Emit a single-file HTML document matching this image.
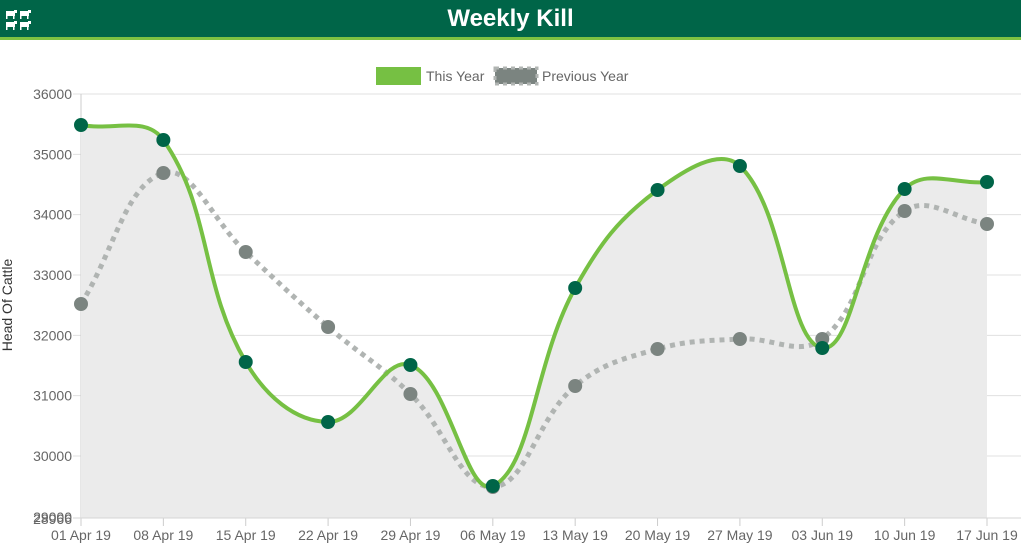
<!DOCTYPE html>
<html><head><meta charset="utf-8"><style>
body{margin:0;width:1021px;height:552px;background:#fff;overflow:hidden;font-family:"Liberation Sans",sans-serif}
.hdr{position:absolute;left:0;top:0;width:1021px;height:37px;background:#006548;border-bottom:3px solid #7dc242}
.hdr h1{margin:0;text-align:center;color:#fff;font-size:24px;line-height:37px;font-weight:bold}
svg{position:absolute;left:0;top:0}
</style></head><body>
<div class="hdr"><h1>Weekly Kill</h1>
<svg width="40" height="37" style="position:absolute;left:0;top:0">
<g fill="#fff">
<rect x="6" y="11" width="9" height="5"/><rect x="14" y="10" width="3" height="3"/><rect x="6" y="16" width="1.5" height="3"/><rect x="13" y="16" width="1.5" height="3"/>
<rect x="20" y="11" width="9" height="5"/><rect x="28" y="10" width="3" height="3"/><rect x="20" y="16" width="1.5" height="3"/><rect x="27" y="16" width="1.5" height="3"/>
<rect x="6" y="22" width="9" height="5"/><rect x="14" y="21" width="3" height="3"/><rect x="6" y="27" width="1.5" height="3"/><rect x="13" y="27" width="1.5" height="3"/>
<rect x="20" y="22" width="9" height="5"/><rect x="28" y="21" width="3" height="3"/><rect x="20" y="27" width="1.5" height="3"/><rect x="27" y="27" width="1.5" height="3"/>
</g></svg></div>
<svg id="s" width="1021" height="552" xmlns="http://www.w3.org/2000/svg" font-family="Liberation Sans, sans-serif" style="top:0"></svg>
<script>
var s=document.getElementById('s'),h='';
var X0=81,DX=(987-81)/11;
function Y(v){return 94+(36000-v)*0.060333;}
var labs=['01 Apr 19','08 Apr 19','15 Apr 19','22 Apr 19','29 Apr 19','06 May 19','13 May 19','20 May 19','27 May 19','03 Jun 19','10 Jun 19','17 Jun 19'];
var ty=[125,140,362,422,365,486,288,190,166,348,189,182];
var py=[304,173,252,327,394,487,386,349,339,339,211,224];
h+='<rect x="376" y="67" width="45" height="18" fill="#76c043"/><text x="426" y="81" font-size="14" fill="#666">This Year</text>';
h+='<rect x="495" y="68" width="42" height="16" fill="#7b8480" stroke="#b0b4b2" stroke-width="3" stroke-dasharray="4 4"/><text x="542" y="81" font-size="14" fill="#666">Previous Year</text>';
for(var v=30000;v<=36000;v+=1000){var y=Y(v);h+='<line x1="73" x2="1021" y1="'+y+'" y2="'+y+'" stroke="#e0e0e0"/><text x="72" y="'+(y+5)+'" font-size="14" fill="#666" text-anchor="end">'+v+'</text>';}
h+='<text x="72" y="522" font-size="14" fill="#666" text-anchor="end">29000</text><text x="72" y="524" font-size="14" fill="#666" text-anchor="end">28966</text>';
h+='<line x1="81" x2="81" y1="94" y2="526" stroke="#ccc"/>';
for(var i=0;i<12;i++){var x=X0+i*DX;h+='<line x1="'+x+'" x2="'+x+'" y1="518" y2="526" stroke="#ccc"/><text x="'+x+'" y="540" font-size="14" fill="#666" text-anchor="middle">'+labs[i]+'</text>';}
function path(ys){var p=ys.map(function(y,i){return [X0+i*DX,y]});var t=0.4,c=[];
for(var i=0;i<p.length;i++){var a=p[Math.max(i-1,0)],b=p[i],n=p[Math.min(i+1,p.length-1)];
var d1=Math.hypot(b[0]-a[0],b[1]-a[1]),d2=Math.hypot(n[0]-b[0],n[1]-b[1]);var s1=d1/(d1+d2||1),s2=d2/(d1+d2||1);var fa=t*s1,fb=t*s2;
c.push([[b[0]-fa*(n[0]-a[0]),b[1]-fa*(n[1]-a[1])],[b[0]+fb*(n[0]-a[0]),b[1]+fb*(n[1]-a[1])]]);}
var d='M'+p[0][0]+' '+p[0][1];for(var i=1;i<p.length;i++){d+=' C'+c[i-1][1][0]+' '+c[i-1][1][1]+' '+c[i][0][0]+' '+c[i][0][1]+' '+p[i][0]+' '+p[i][1];}return d;}
var tp=path(ty);
h+='<path d="'+tp+' L987 518 L81 518 Z" fill="#ebebeb"/>';
h+='<line x1="73" x2="1021" y1="518" y2="518" stroke="#d6d6d6"/>';
h+='<path d="'+path(py)+'" fill="none" stroke="#b0b4b2" stroke-width="5" stroke-dasharray="5 5"/>';
h+='<path d="'+tp+'" fill="none" stroke="#76c043" stroke-width="4"/>';
for(var i=0;i<12;i++){var x=X0+i*DX;h+='<circle cx="'+x+'" cy="'+py[i]+'" r="7" fill="#7b8480"/>';}
for(var i=0;i<12;i++){var x=X0+i*DX;h+='<circle cx="'+x+'" cy="'+ty[i]+'" r="7" fill="#006548"/>';}
h+='<text transform="translate(12,305) rotate(-90)" font-size="14" fill="#333" text-anchor="middle">Head Of Cattle</text>';
s.innerHTML=h;
</script>
</body></html>
